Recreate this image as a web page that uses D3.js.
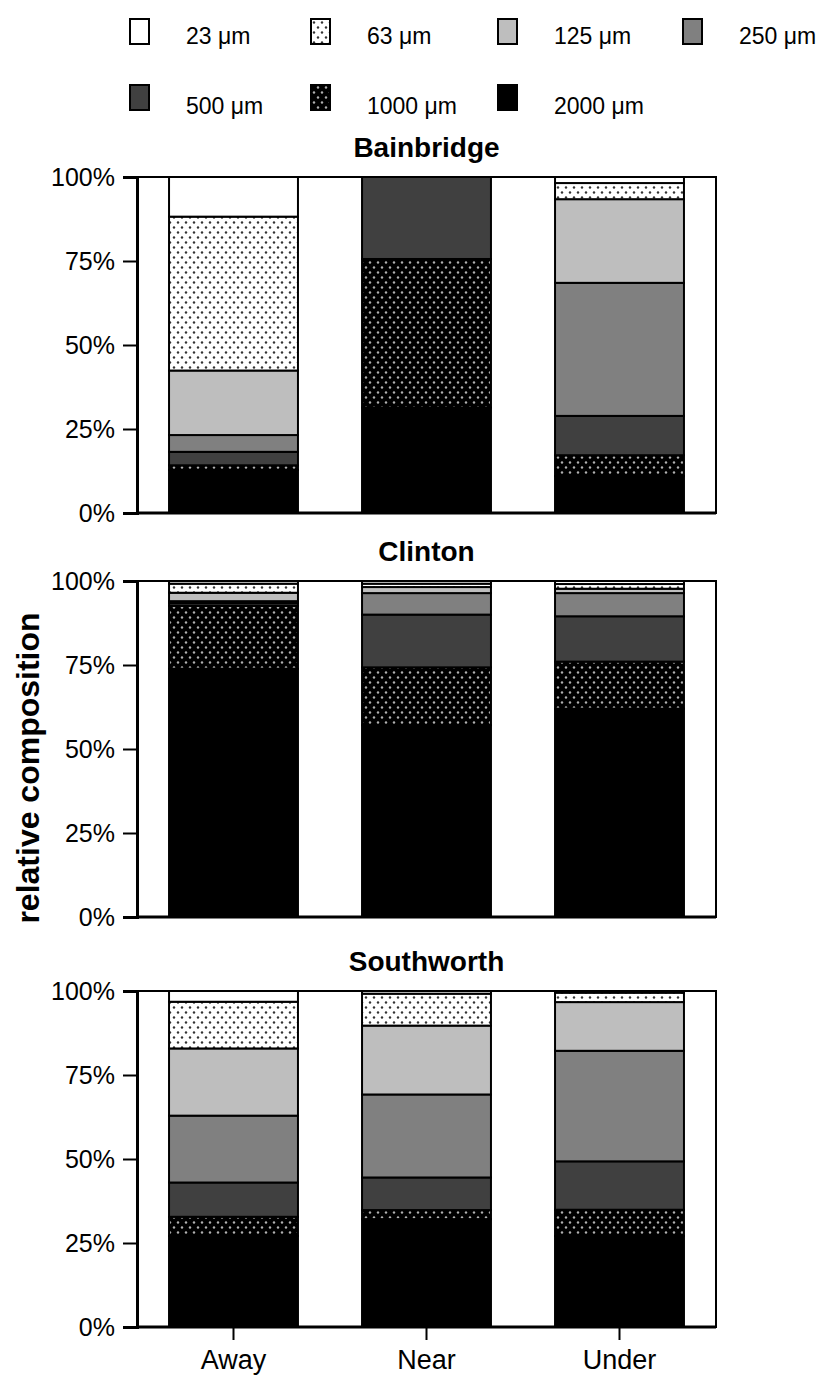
<!DOCTYPE html>
<html>
<head>
<meta charset="utf-8">
<script src="https://cdn.jsdelivr.net/npm/d3@7"></script>
<style>
  body { margin: 0; background: #fff; }
  text { font-family: "Liberation Sans", Arial, sans-serif; }
</style>
</head>
<body>
<svg id="chart" width="825" height="1376"></svg>
<script>
// ---------- data ----------
const sizes = ["23 μm", "63 μm", "125 μm", "250 μm", "500 μm", "1000 μm", "2000 μm"];
const sites = ["Away", "Near", "Under"];
const panelNames = ["Bainbridge", "Clinton", "Southworth"];
const yTicks = [0, 0.25, 0.5, 0.75, 1];

// values in % per site, ordered as sizes (23 → 2000 μm)
const bainbridge = [
  [11.8, 45.8, 19.2, 5.0, 4.0, 1.4, 12.8],
  [0, 0, 0, 0, 24.4, 44.2, 31.4],
  [1.8, 4.8, 24.9, 39.6, 11.7, 6.2, 11.0]
];
const clinton = [
  [0.8, 2.7, 2.5, 0.6, 0.8, 18.7, 73.9],
  [0.8, 1.0, 1.8, 6.4, 15.7, 17.2, 57.1],
  [0.9, 1.4, 1.3, 6.9, 13.5, 14.0, 62.0]
];
const southworth = [
  [3.2, 13.9, 20.0, 19.9, 10.2, 5.7, 27.1],
  [0.8, 9.5, 20.5, 24.7, 9.7, 2.7, 32.1],
  [0.5, 2.8, 14.5, 32.9, 14.4, 7.8, 27.1]
];
const panelData = [bainbridge, clinton, southworth];

// ---------- layout ----------
const svg = d3.select("#chart");
const xLeft = 137, xRight = 716;
const panelTops = [177, 581, 991];
const panelH = 336;

const fills = ["#ffffff", "url(#pat63)", "#bebebe", "#808080", "#404040", "url(#pat1000)", "#000000"];

// patterns
const defs = svg.append("defs");
function dotPattern(id, bg, dot) {
  const p = defs.append("pattern").attr("id", id)
    .attr("patternUnits", "userSpaceOnUse").attr("width", 8).attr("height", 10);
  p.append("rect").attr("width", 8).attr("height", 10).attr("fill", bg);
  p.append("circle").attr("cx", 2).attr("cy", 2.5).attr("r", 1.2).attr("fill", dot);
  p.append("circle").attr("cx", 6).attr("cy", 7.5).attr("r", 1.2).attr("fill", dot);
}
dotPattern("pat63", "#ffffff", "#333");
dotPattern("pat1000", "#000000", "#b0b0b0");

const x = d3.scaleBand().domain(sites).range([xLeft, xRight])
  .paddingInner(0.332).paddingOuter(0.166);

const stackKeys = d3.range(sizes.length).reverse(); // bottom: 2000 μm

panelData.forEach((data, pi) => {
  const top = panelTops[pi];
  const y = d3.scaleLinear().domain([0, 1]).range([top + panelH, top]);
  const g = svg.append("g");

  // frame
  g.append("rect").attr("x", xLeft).attr("y", top)
    .attr("width", xRight - xLeft).attr("height", panelH)
    .attr("fill", "none").attr("stroke", "#000").attr("stroke-width", 2);

  // stacked bars
  const rows = data.map((vals, si) => {
    const o = { site: sites[si] };
    vals.forEach((v, k) => o[k] = v / 100);
    return o;
  });
  const series = d3.stack().keys(stackKeys)(rows);
  series.forEach(s => {
    g.append("g").selectAll("rect").data(s.filter(d => d[1] - d[0] > 0)).join("rect")
      .attr("x", d => x(d.data.site))
      .attr("width", x.bandwidth())
      .attr("y", d => y(d[1]))
      .attr("height", d => y(d[0]) - y(d[1]))
      .attr("fill", fills[s.key])
      .attr("stroke", "#000").attr("stroke-width", 2);
  });

  // y axis
  const ya = g.append("g").attr("transform", `translate(${xLeft},0)`)
    .call(d3.axisLeft(y).tickValues(yTicks).tickFormat(d3.format(".0%")).tickSize(14).tickPadding(8));
  ya.select(".domain").attr("stroke-width", 3);
  ya.selectAll(".tick line").attr("stroke-width", 2);
  ya.selectAll(".tick text").attr("font-size", 25).attr("fill", "#000")
    .style("font-family", "'Liberation Sans', Arial, sans-serif");

  // bottom axis line
  g.append("line").attr("x1", xLeft).attr("x2", xRight)
    .attr("y1", top + panelH).attr("y2", top + panelH)
    .attr("stroke", "#000").attr("stroke-width", 3);

  // title
  g.append("text").attr("x", (xLeft + xRight) / 2).attr("y", top - 20)
    .attr("text-anchor", "middle").attr("font-size", 28).attr("font-weight", "bold")
    .text(panelNames[pi]);

  if (pi === panelData.length - 1) {
    const xa = g.append("g").attr("transform", `translate(0,${top + panelH})`)
      .call(d3.axisBottom(x).tickSize(13).tickPadding(10));
    xa.select(".domain").remove();
    xa.selectAll(".tick line").attr("stroke-width", 2);
    xa.selectAll(".tick text").attr("font-size", 27).attr("fill", "#000")
      .style("font-family", "'Liberation Sans', Arial, sans-serif");
  }
});

// y axis title
svg.append("text")
  .attr("transform", `translate(39,768) rotate(-90)`)
  .attr("text-anchor", "middle").attr("font-size", 32).attr("font-weight", "bold")
  .text("relative composition");

// legend
const legendPos = [
  [130, 19], [311, 19], [498, 19], [683, 19],
  [130, 85], [311, 85], [498, 85]
];
const leg = svg.append("g");
sizes.forEach((s, i) => {
  const [lx, ly] = legendPos[i];
  leg.append("rect").attr("x", lx).attr("y", ly).attr("width", 19).attr("height", 25)
    .attr("fill", fills[i]).attr("stroke", "#000").attr("stroke-width", 2);
  leg.append("text").attr("x", lx + 56).attr("y", ly + (i < 4 ? 25 : 29))
    .attr("font-size", 23).text(s);
});
</script>
</body>
</html>
